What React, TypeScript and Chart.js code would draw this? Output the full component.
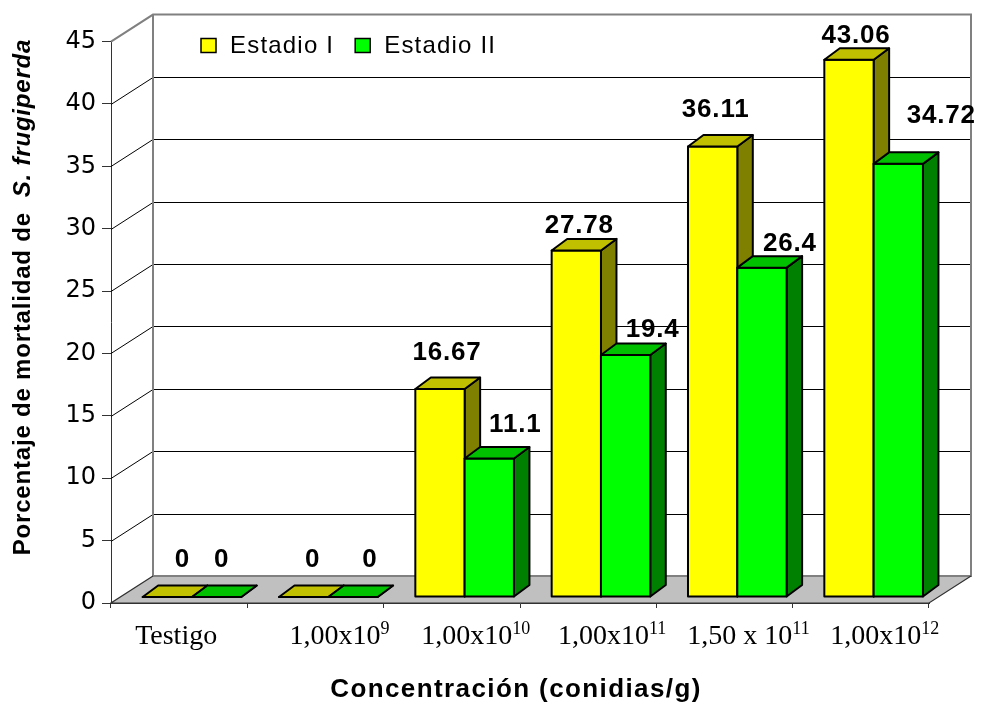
import { useEffect, useRef } from "react";
import { Chart, registerables } from "chart.js";

Chart.register(...registerables);

// ---------- data ----------
const categories = ["Testigo", "1,00x10^9", "1,00x10^10", "1,00x10^11", "1,50 x 10^11", "1,00x10^12"];
const estadioI = [0, 0, 16.67, 27.78, 36.11, 43.06];
const estadioII = [0, 0, 11.1, 19.4, 26.4, 34.72];
const seriesNames = ["Estadio I", "Estadio II"];
const yMin = 0;
const yMax = 45;
const yStep = 5;
const xTitle = "Concentración (conidias/g)";
const yTitleMain = "Porcentaje de mortalidad de  ";
const yTitleItalic = "S. frugiperda";

// ---------- style ----------
const FACES = [
  { front: "#ffff00", top: "#c0c000", side: "#808000" },
  { front: "#00ff00", top: "#00c000", side: "#008000" },
];
const DEPTH_X = 42;
const DEPTH_Y = -27;
const BAR_OX = 12.8;
const BAR_OY = -6;
const BAR_DX = 15.5;
const BAR_DY = -11.5;
// label placement per series/category: [dx from front-face centre, gap above front top]
const LABEL_PLACE = [
  [[15, 30], [9, 30], [7, 29], [3, 17], [3, 30], [7, 17]],
  [[5, 30], [17, 30], [26, 27], [27, 18], [28, 17], [43, 41]],
];
const SANS = "'Liberation Sans', Arial, sans-serif";
const SERIF = "'Liberation Serif', 'Times New Roman', serif";

function setSpacing(ctx: any, px: number) {
  if ("letterSpacing" in ctx) ctx.letterSpacing = px + "px";
}

function poly(ctx: CanvasRenderingContext2D, pts: number[][], fill: string) {
  ctx.beginPath();
  ctx.moveTo(pts[0][0], pts[0][1]);
  for (let i = 1; i < pts.length; i++) ctx.lineTo(pts[i][0], pts[i][1]);
  ctx.closePath();
  ctx.fillStyle = fill;
  ctx.fill();
  ctx.stroke();
}

const threeD = {
  id: "threeD",
  beforeDatasetsDraw(chart: any) {
    const { ctx, chartArea: a, scales } = chart;
    const y = scales.y;
    const L = a.left, R = a.right;
    const T = y.getPixelForValue(yMax);
    const B = y.getPixelForValue(yMin);
    ctx.save();
    // floor
    ctx.beginPath();
    ctx.moveTo(L, B);
    ctx.lineTo(R, B);
    ctx.lineTo(R + DEPTH_X, B + DEPTH_Y);
    ctx.lineTo(L + DEPTH_X, B + DEPTH_Y);
    ctx.closePath();
    ctx.fillStyle = "#c0c0c0";
    ctx.fill();
    // gridlines (side wall + back wall)
    ctx.strokeStyle = "#000";
    ctx.lineWidth = 1;
    y.ticks.forEach((t: any) => {
      if (t.value <= yMin || t.value >= yMax) return;
      const py = Math.round(y.getPixelForValue(t.value)) + 0.5;
      ctx.beginPath();
      ctx.moveTo(L, py);
      ctx.lineTo(L + DEPTH_X, py + DEPTH_Y);
      ctx.lineTo(R + DEPTH_X, py + DEPTH_Y);
      ctx.stroke();
    });
    // wall frame
    ctx.strokeStyle = "#808080";
    ctx.lineWidth = 2;
    ctx.beginPath();
    ctx.moveTo(L, T);
    ctx.lineTo(L + DEPTH_X, T + DEPTH_Y);
    ctx.lineTo(R + DEPTH_X, T + DEPTH_Y);
    ctx.lineTo(R + DEPTH_X, B + DEPTH_Y);
    ctx.lineTo(L + DEPTH_X, B + DEPTH_Y);
    ctx.lineTo(L + DEPTH_X, T + DEPTH_Y);
    ctx.stroke();
    // floor edges
    ctx.strokeStyle = "#303030";
    ctx.lineWidth = 1.2;
    ctx.beginPath();
    ctx.moveTo(L + DEPTH_X, B + DEPTH_Y);
    ctx.lineTo(L, B);
    ctx.lineTo(R, B);
    ctx.lineTo(R + DEPTH_X, B + DEPTH_Y);
    ctx.stroke();
    ctx.restore();
  },
  afterDatasetsDraw(chart: any) {
    const { ctx } = chart;
    const metas = [chart.getDatasetMeta(0), chart.getDatasetMeta(1)];
    const values = [estadioI, estadioII];
    ctx.save();
    ctx.lineWidth = 2;
    ctx.lineJoin = "round";
    ctx.strokeStyle = "#000";
    const labels: any[] = [];
    for (let i = 0; i < categories.length; i++) {
      for (let d = 0; d < 2; d++) {
        const el = metas[d].data[i];
        const w = el.width;
        const x0 = el.x - w / 2 + BAR_OX;
        const x1 = x0 + w;
        const yt = el.y + BAR_OY;
        const yb = el.base + BAR_OY;
        const f = FACES[d];
        poly(ctx, [[x1, yt], [x1 + BAR_DX, yt + BAR_DY], [x1 + BAR_DX, yb + BAR_DY], [x1, yb]], f.side);
        poly(ctx, [[x0, yt], [x1, yt], [x1, yb], [x0, yb]], f.front);
        poly(ctx, [[x0, yt], [x1, yt], [x1 + BAR_DX, yt + BAR_DY], [x0 + BAR_DX, yt + BAR_DY]], f.top);
        const p = LABEL_PLACE[d][i];
        labels.push({ text: String(values[d][i]), x: x0 + w / 2 + p[0], y: yt - p[1] });
      }
    }
    ctx.fillStyle = "#000";
    ctx.font = `bold 26px ${SANS}`;
    ctx.textAlign = "center";
    ctx.textBaseline = "alphabetic";
    setSpacing(ctx, 0.8);
    labels.forEach((l) => ctx.fillText(l.text, l.x, l.y));
    ctx.restore();
  },
  afterDraw(chart: any) {
    const { ctx, scales } = chart;
    const x = scales.x;
    ctx.save();
    ctx.fillStyle = "#000";
    ctx.textBaseline = "alphabetic";
    // x category labels with superscripts
    categories.forEach((c, i) => {
      const [base, exp] = c.split("^");
      const cx = i === 0 ? x.getPixelForValue(i) - 3 : x.getPixelForValue(i) + DEPTH_X / 2 + 3;
      ctx.font = `28px ${SERIF}`;
      const bw = ctx.measureText(base).width;
      let ew = 0;
      if (exp) {
        ctx.font = `18px ${SERIF}`;
        ew = ctx.measureText(exp).width;
      }
      const start = cx - (bw + ew) / 2;
      ctx.textAlign = "left";
      ctx.font = `28px ${SERIF}`;
      ctx.fillText(base, start, 644);
      if (exp) {
        ctx.font = `18px ${SERIF}`;
        ctx.fillText(exp, start + bw, 634);
      }
    });
    // x title
    ctx.font = `bold 26px ${SANS}`;
    setSpacing(ctx, 1.4);
    ctx.textAlign = "center";
    ctx.fillText(xTitle, 516, 697);
    // y title (rotated, mixed style)
    setSpacing(ctx, 0.8);
    const f1 = `bold 24px ${SANS}`;
    const f2 = `italic bold 24px ${SANS}`;
    ctx.font = f1;
    const w1 = ctx.measureText(yTitleMain).width;
    ctx.font = f2;
    const w2 = ctx.measureText(yTitleItalic).width;
    const centerY = 297;
    ctx.translate(30, centerY + (w1 + w2) / 2);
    ctx.rotate(-Math.PI / 2);
    ctx.textAlign = "left";
    ctx.font = f1;
    ctx.fillText(yTitleMain, 0, 0);
    ctx.font = f2;
    ctx.fillText(yTitleItalic, w1, 0);
    ctx.setTransform(1, 0, 0, 1, 0, 0);
    // legend
    ctx.font = `24px ${SANS}`;
    setSpacing(ctx, 1.2);
    ctx.textAlign = "left";
    let lx = 201;
    seriesNames.forEach((n, d) => {
      ctx.fillStyle = FACES[d].front;
      ctx.strokeStyle = "#000";
      ctx.lineWidth = 1.5;
      ctx.fillRect(lx, 38.5, 15, 14);
      ctx.strokeRect(lx, 38.5, 15, 14);
      ctx.fillStyle = "#000";
      ctx.fillText(n, lx + 29, 53);
      lx += 29 + ctx.measureText(n).width + 21;
    });
    ctx.restore();
  },
};

export default function App() {
  const ref = useRef<HTMLCanvasElement>(null);
  useEffect(() => {
    const chart = new Chart(ref.current as HTMLCanvasElement, {
      type: "bar",
      data: {
        labels: categories,
        datasets: [
          { label: seriesNames[0], data: estadioI, backgroundColor: "rgba(0,0,0,0)", borderWidth: 0 },
          { label: seriesNames[1], data: estadioII, backgroundColor: "rgba(0,0,0,0)", borderWidth: 0 },
        ],
      },
      options: {
        responsive: false,
        animation: false,
        events: [],
        layout: { padding: { top: 41.6, right: 52, left: 0, bottom: 0 } },
        datasets: { bar: { categoryPercentage: 0.7233, barPercentage: 1 } },
        plugins: { legend: { display: false }, tooltip: { enabled: false } },
        scales: {
          x: {
            offset: true,
            grid: { offset: true, drawOnChartArea: false, drawTicks: true, tickLength: 5, color: "#333" },
            border: { display: true, color: "#333", width: 1 },
            ticks: { display: false },
            afterFit: (s: any) => { s.height = 103; },
          },
          y: {
            min: yMin,
            max: yMax,
            grid: { drawOnChartArea: false, drawTicks: true, tickLength: 9, color: "#333" },
            border: { display: true, color: "#333", width: 1 },
            ticks: { stepSize: yStep, color: "#000", padding: 6, font: { family: "'DejaVu Sans'", size: 24 } },
            afterFit: (s: any) => { s.width = 111; },
          },
        },
      },
      plugins: [threeD],
    });
    return () => chart.destroy();
  }, []);
  return (
    <div style={{ position: "absolute", left: 0, top: 0, width: 981, height: 706, background: "#fff" }}>
      <canvas ref={ref} width={981} height={706} style={{ display: "block" }} />
    </div>
  );
}
